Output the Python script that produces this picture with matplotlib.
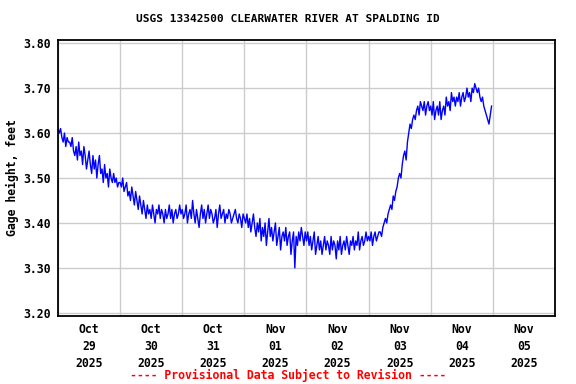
import numpy as np
import pandas as pd
import matplotlib
matplotlib.use("Agg")
import matplotlib.pyplot as plt
import matplotlib.dates as mdates

# gage height, hundredths of a foot above 3.00, every 30 min from 2025-10-29 00:00
day1 = [61, 60, 61, 59, 58, 60, 57, 59, 58, 58, 57, 59, 56, 55, 57, 54, 58, 55, 56, 53, 57, 55, 52, 54,
        56, 53, 51, 55, 52, 54, 50, 53, 55, 51, 52, 49, 53, 50, 51, 48, 52, 50, 49, 51, 49, 50, 48, 49]
day2 = [49, 48, 50, 47, 48, 49, 46, 47, 45, 48, 46, 44, 47, 45, 43, 46, 44, 42, 45, 43, 41, 44, 42, 43,
        41, 44, 42, 40, 43, 42, 44, 41, 43, 42, 40, 43, 41, 42, 44, 41, 43, 40, 42, 43, 41, 42, 44, 42]
day3 = [43, 41, 42, 44, 40, 42, 43, 41, 45, 42, 40, 43, 41, 39, 42, 44, 41, 43, 40, 42, 44, 41, 43, 42,
        40, 41, 43, 39, 42, 44, 41, 42, 43, 40, 42, 41, 43, 42, 40, 41, 42, 43, 41, 40, 42, 41, 39, 42]
day4 = [41, 40, 42, 39, 41, 38, 40, 42, 39, 37, 40, 38, 41, 36, 39, 37, 40, 35, 38, 41, 37, 39, 36, 38,
        40, 35, 37, 39, 34, 37, 38, 36, 39, 35, 37, 38, 33, 36, 38, 30, 37, 35, 38, 36, 39, 37, 35, 38]
day5 = [36, 38, 35, 37, 34, 36, 38, 33, 35, 37, 34, 36, 33, 35, 37, 34, 36, 35, 33, 37, 34, 36, 35, 32,
        36, 34, 37, 33, 35, 36, 34, 37, 35, 33, 36, 35, 37, 34, 36, 35, 38, 34, 36, 37, 35, 36, 38, 36]
day6 = [37, 36, 38, 35, 37, 38, 36, 37, 38, 38, 37, 39, 40, 41, 40, 42, 43, 44, 43, 46, 45, 47, 48, 50,
        51, 50, 53, 55, 56, 54, 58, 60, 62, 61, 63, 64, 63, 65, 66, 64, 67, 66, 65, 67, 64, 66, 67, 65]
day7 = [66, 64, 67, 63, 65, 66, 64, 67, 63, 65, 66, 64, 68, 66, 67, 65, 69, 67, 68, 66, 68, 67, 69, 66,
        68, 69, 67, 68, 70, 68, 69, 67, 70, 69, 71, 70, 69, 70, 68, 67, 68, 66, 65, 64, 63, 62, 64, 66]

title = "USGS 13342500 CLEARWATER RIVER AT SPALDING ID"
ylabel = "Gage height, feet"
note = "---- Provisional Data Subject to Revision ----"
yticks = [3.20, 3.30, 3.40, 3.50, 3.60, 3.70, 3.80]

hundredths = day1 + day2 + day3 + day4 + day5 + day6 + day7
gage = 3.0 + np.array(hundredths) / 100.0
times = pd.date_range("2025-10-29 00:00", periods=len(gage), freq="30min")

mono = "DejaVu Sans Mono"
fig = plt.figure(figsize=(5.76, 3.84), dpi=100)
ax = fig.add_axes([0.1007, 0.1771, 0.8628, 0.7187])

ax.plot(times, gage, color="#0000ff", lw=1.0)

ax.set_xlim(pd.Timestamp("2025-10-29"), pd.Timestamp("2025-11-06"))
ax.set_ylim(3.193, 3.807)
ax.set_yticks(yticks)
ax.set_yticklabels(["%.2f" % v for v in yticks], fontfamily=mono, fontweight="bold", fontsize=8.3)

ax.xaxis.set_major_locator(mdates.HourLocator(byhour=[12]))
ax.xaxis.set_major_formatter(mdates.DateFormatter("%b\n%d\n%Y"))
ax.xaxis.set_minor_locator(mdates.DayLocator())
for lab in ax.get_xticklabels():
    lab.set_fontfamily(mono)
    lab.set_fontweight("bold")
    lab.set_fontsize(8.3)
    lab.set_linespacing(1.4)

ax.tick_params(axis="both", which="both", length=0)
ax.tick_params(axis="x", pad=5)
ax.tick_params(axis="y", pad=5)
ax.grid(True, axis="y", color="#cccccc", lw=1)
ax.grid(True, axis="x", which="minor", color="#cccccc", lw=1)
ax.grid(False, axis="x", which="major")
ax.set_axisbelow(True)
for s in ax.spines.values():
    s.set_linewidth(1.3)

fig.text(0.5, 0.95, title, ha="center", va="center", fontfamily=mono, fontweight="bold", fontsize=8)
fig.text(0.022, 0.5365, ylabel, rotation=90, ha="center", va="center",
         fontfamily=mono, fontweight="bold", fontsize=8.3)
fig.text(0.5, 0.021, note, ha="center", va="center", color="red",
         fontfamily=mono, fontweight="bold", fontsize=8.3)

fig.savefig("out.png", dpi=100)
